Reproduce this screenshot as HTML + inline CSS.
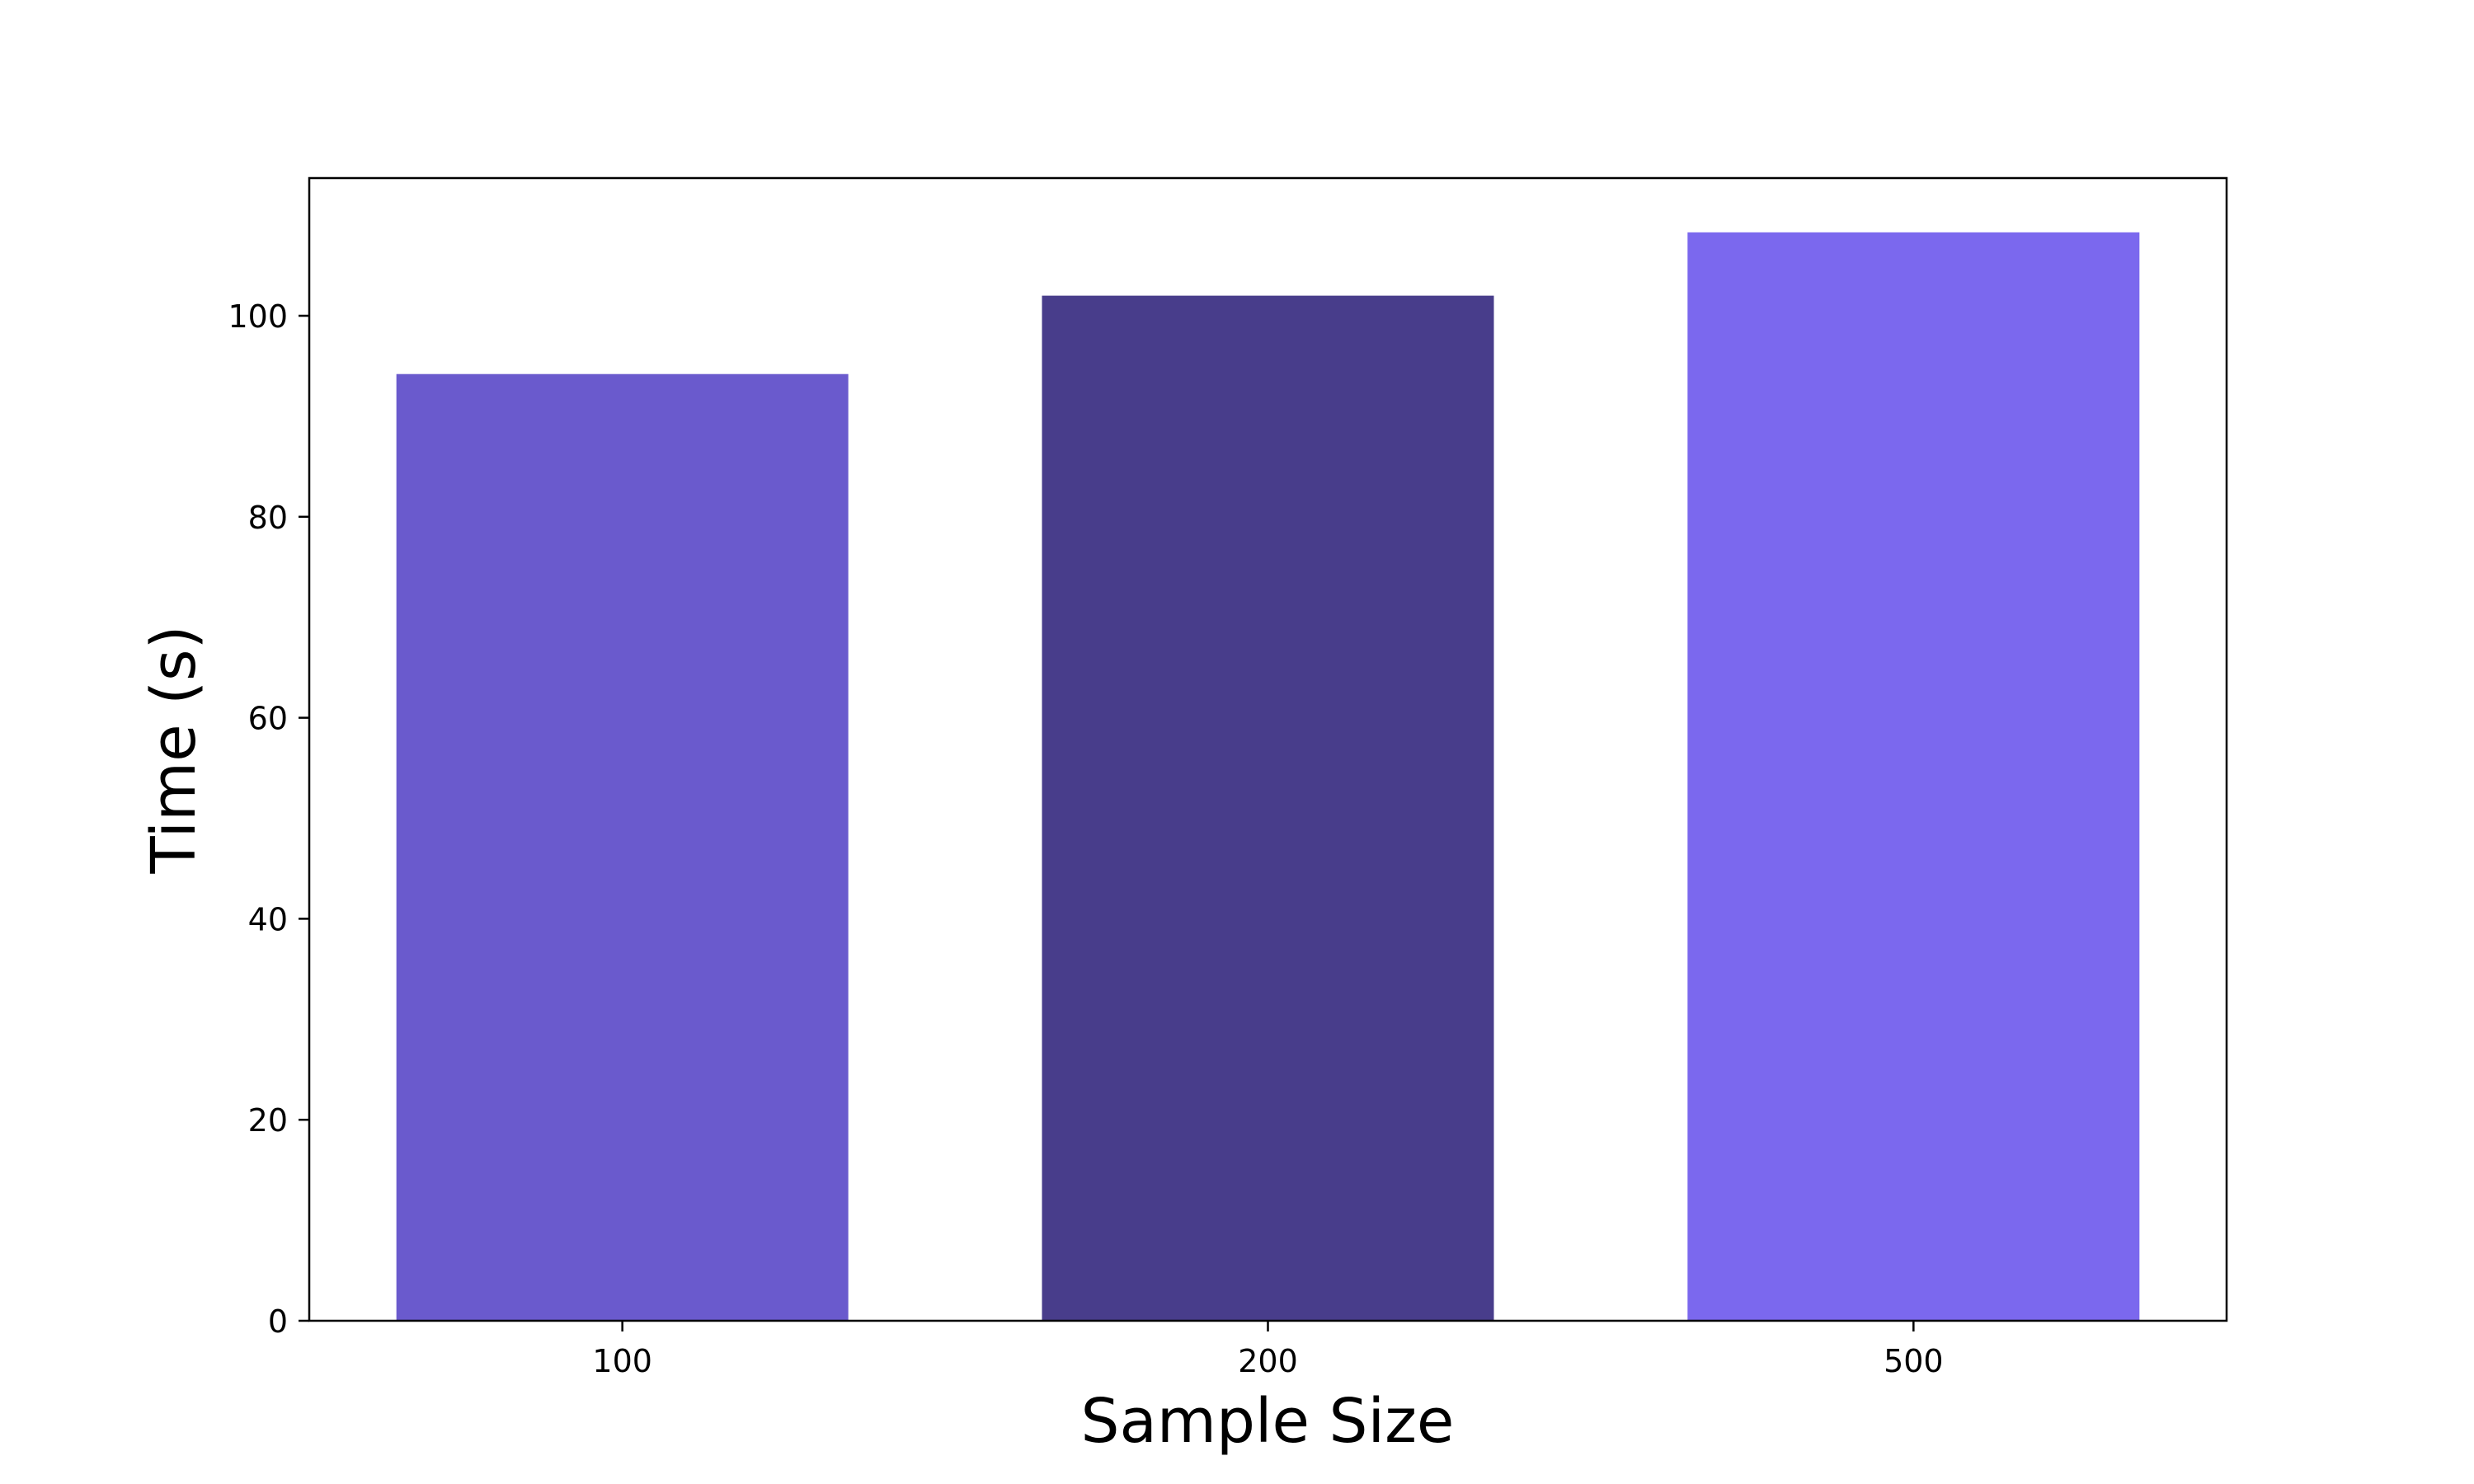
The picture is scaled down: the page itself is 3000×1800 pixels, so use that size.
<!DOCTYPE html>
<html><head><meta charset="utf-8"><style>
html,body{margin:0;padding:0;background:#fff;}
svg{display:block;font-family:"DejaVu Sans","Liberation Sans",sans-serif;}
</style></head><body>
<svg id="chart" width="3000" height="1800" viewBox="0 0 3000 1800">
<rect x="0" y="0" width="3000" height="1800" fill="#fff"/>
<g id="bars"></g>
<g id="axes"></g>
<text x="1537" y="1749" font-size="74" text-anchor="middle">Sample Size</text>
<text transform="translate(236,909) rotate(-90)" font-size="74" text-anchor="middle">Time (s)</text>
</svg>
<script>
const categories = ["100", "200", "500"];
const values = [94.2, 102.0, 108.3];
const colors = ["#6A5ACD", "#483D8B", "#7B68EE"];
const yTicks = [0, 20, 40, 60, 80, 100];

const L = 375, R = 2700, T = 216, B = 1602;
const xMin = -0.485, xMax = 2.485, yMax = 113.7;
const barW = 0.7;
const NS = "http://www.w3.org/2000/svg";
function xs(v){ return L + (v - xMin) / (xMax - xMin) * (R - L); }
function ys(v){ return B - v / yMax * (B - T); }
function mk(tag, attrs, parent){
  const e = document.createElementNS(NS, tag);
  for (const k in attrs) e.setAttribute(k, attrs[k]);
  parent.appendChild(e);
  return e;
}
const bars = document.getElementById('bars');
const axes = document.getElementById('axes');
categories.forEach((c, i) => {
  const r = mk('rect', {x: xs(i - barW/2), y: ys(values[i]), width: xs(i + barW/2) - xs(i - barW/2), height: ys(0) - ys(values[i]), fill: colors[i]}, bars);
  
  
  const t = mk('line', {x1: xs(i), x2: xs(i), y1: B, y2: B + 13, stroke: '#000', 'stroke-width': 2.5}, axes);
  
  
  const lb = mk('text', {x: xs(i), y: B + 62, 'font-size': 38, 'text-anchor': 'middle'}, axes);
  lb.textContent = c;
  
  
});
yTicks.forEach(v => {
  const t = mk('line', {x1: L - 13, x2: L, y1: ys(v), y2: ys(v), stroke: '#000', 'stroke-width': 2.5}, axes);
  
  
  const lb = mk('text', {x: L - 26, y: ys(v) + 14, 'font-size': 38, 'text-anchor': 'end'}, axes);
  lb.textContent = v;
  
  
});
const frame = mk('rect', {x: L, y: T, width: R - L, height: B - T, fill: 'none', stroke: '#000', 'stroke-width': 2.5}, axes);


</script>
</body></html>
